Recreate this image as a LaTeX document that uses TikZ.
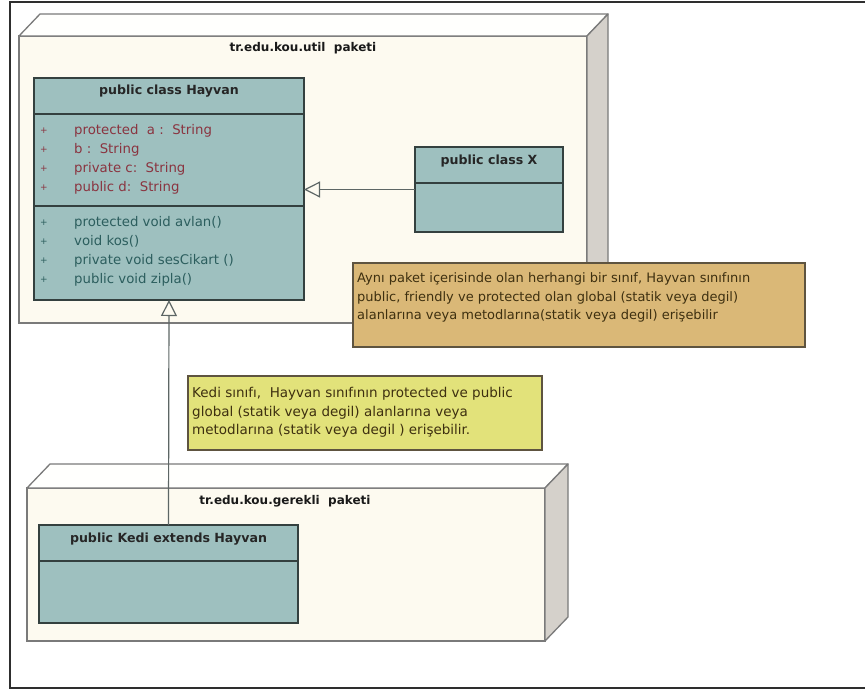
\documentclass[tikz,border=0pt]{standalone}
\usepackage{fontspec}
\setmainfont{DejaVu Sans}
\usetikzlibrary{arrows.meta,calc}

\definecolor{frameline}{HTML}{2E2E2E}
\definecolor{pkgfront}{HTML}{FDFAF0}
\definecolor{pkgtop}{HTML}{FFFFFD}
\definecolor{pkgside}{HTML}{D5D1CB}
\definecolor{pkgedge}{HTML}{7A7A7A}
\definecolor{classfill}{HTML}{9EC0BF}
\definecolor{classedge}{HTML}{34403F}
\definecolor{attrtext}{HTML}{8A3440}
\definecolor{methtext}{HTML}{2C5E5E}
\definecolor{noteorange}{HTML}{DAB877}
\definecolor{noteyellow}{HTML}{E2E27A}
\definecolor{noteedge}{HTML}{5E5440}
\definecolor{notetext}{HTML}{3E3010}

% multi-line text nodes are placed by the baseline of their last line
\tikzset{
  pkgface/.style={draw=pkgedge, fill=pkgfront, line width=1.3pt, inner sep=0pt, outer sep=0pt},
  pkgtopface/.style={draw=pkgedge, fill=pkgtop, line width=1.3pt, line join=round},
  pkgsideface/.style={draw=pkgedge, fill=pkgside, line width=1.3pt, line join=round},
  pkgtitle/.style={font=\fontsize{12}{14}\selectfont\bfseries, text=black!90, inner sep=0pt},
  classbox/.style={draw=classedge, fill=classfill, line width=1.4pt, inner sep=0pt, outer sep=0pt},
  classline/.style={draw=classedge, line width=1.4pt},
  classtitle/.style={font=\fontsize{12.6}{14}\selectfont\bfseries, text=black!85, inner sep=0pt},
  members/.style={font=\fontsize{13.3}{19}\selectfont, align=left, anchor=base west, inner sep=0pt},
  bullets/.style={font=\fontsize{9}{19}\selectfont, align=left, anchor=base west, inner sep=0pt},
  notebox/.style={draw=noteedge, line width=1.4pt, inner sep=0pt, outer sep=0pt},
  notetxt/.style={font=\fontsize{13.5}{18.5}\selectfont, text=notetext, align=left, anchor=base west, inner sep=0pt},
  inherit/.style={draw=classedge!80, line width=1.2pt, -{Triangle[open, length=16pt, width=16pt, line width=1.2pt]}},
}

\begin{document}
\begin{tikzpicture}[x=1pt, y=-1pt]
  \useasboundingbox (0,0) rectangle (865,691);
  \fill[white] (0,0) rectangle (865,691);

  % outer frame
  \draw[frameline, line width=1.6pt] (866,2) -- (10,2) -- (10,688) -- (866,688);

  % package tr.edu.kou.util
  \node[pkgface, minimum width=568pt, minimum height=287pt] (util) at (303,179.5) {};
  \draw[pkgtopface] (util.north west) -- ++(21,-22) -- ($(util.north east)+(21,-22)$) -- (util.north east) -- cycle;
  \draw[pkgsideface] (util.north east) -- ++(21,-22) -- ($(util.south east)+(21,-22)$) -- (util.south east) -- cycle;
  \node[pkgtitle] (utiltitle) at (303,48) {tr.edu.kou.util\ \ paketi};

  % package tr.edu.kou.gerekli
  \node[pkgface, minimum width=518pt, minimum height=153pt] (gerekli) at (286,564.5) {};
  \draw[pkgtopface] (gerekli.north west) -- ++(23,-24) -- ($(gerekli.north east)+(23,-24)$) -- (gerekli.north east) -- cycle;
  \draw[pkgsideface] (gerekli.north east) -- ++(23,-24) -- ($(gerekli.south east)+(23,-24)$) -- (gerekli.south east) -- cycle;
  \node[pkgtitle] (gereklititle) at (285,501) {tr.edu.kou.gerekli\ \ paketi};

  % class Hayvan
  \node[classbox, minimum width=270pt, minimum height=222pt] (hayvan) at (169,189) {};
  \draw[classline] (34,114) -- (304,114);
  \draw[classline] (34,206) -- (304,206);
  \node[classtitle] (hayvantitle) at (169,91) {public class Hayvan};
  \node[bullets, text=attrtext] (attrbul) at (40,190) {+\\+\\+\\+};
  \node[members, text=attrtext] (attrs) at (74,191) {protected\ \ a :\ \ String\\b :\ \ String\\private c:\ \ String\\public d:\ \ String};
  \node[bullets, text=methtext] (methbul) at (40,282) {+\\+\\+\\+};
  \node[members, text=methtext] (meths) at (74,283) {protected void avlan()\\void kos()\\private void sesCikart ()\\public void zipla()};

  % class X
  \node[classbox, minimum width=148pt, minimum height=85pt] (classx) at (489,189.5) {};
  \draw[classline] (415,183) -- (563,183);
  \node[classtitle] (xtitle) at (489,161) {public class X};

  % class Kedi
  \node[classbox, minimum width=259pt, minimum height=98pt] (kedi) at (168.5,574) {};
  \draw[classline] (39,561) -- (298,561);
  \node[classtitle] (keditle) at (168.5,539) {public Kedi extends Hayvan};

  % generalisations
  \draw[inherit] (classx.west) -- (hayvan.east |- classx.west);
  \draw[inherit] (kedi.north) -- (hayvan.south);

  % notes
  \node[notebox, fill=noteorange, minimum width=452pt, minimum height=84pt] (note1) at (579,305) {};
  \node[notetxt, font=\fontsize{13}{18.5}\selectfont] (note1text) at (357,319.5) {Aynı paket içerisinde olan herhangi bir sınıf, Hayvan sınıfının\\public, friendly ve protected olan global (statik veya degil)\\alanlarına veya metodlarına(statik veya degil) erişebilir};

  \node[notebox, fill=noteyellow, minimum width=354pt, minimum height=74pt] (note2) at (365,413) {};
  \node[notetxt] (note2text) at (192,434.5) {Kedi sınıfı,\ \ Hayvan sınıfının protected ve public\\global (statik veya degil) alanlarına veya\\metodlarına (statik veya degil ) erişebilir.};
\end{tikzpicture}
\end{document}
